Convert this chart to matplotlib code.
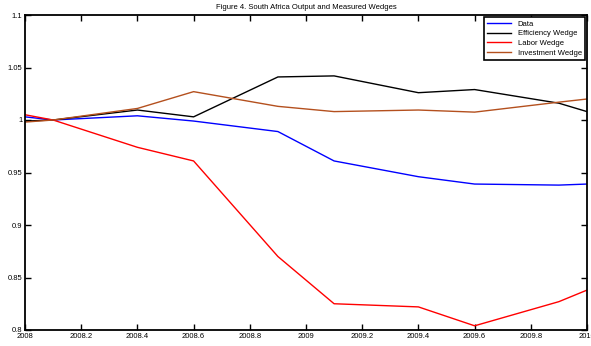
import matplotlib
matplotlib.use("Agg")
import matplotlib.pyplot as plt
from matplotlib.ticker import FormatStrFormatter, FuncFormatter

# Zeitpunkte (Quartale)
jahre = [2008.0, 2008.1, 2008.4, 2008.6, 2008.9, 2009.1, 2009.4, 2009.6, 2009.9, 2010.0]

data = [1.003, 1.000, 1.004, 0.999, 0.989, 0.961, 0.946, 0.939, 0.938, 0.939]
efficiency = [0.999, 1.000, 1.0095, 1.003, 1.041, 1.042, 1.026, 1.029, 1.016, 1.008]
labor = [1.005, 1.000, 0.974, 0.961, 0.870, 0.825, 0.822, 0.804, 0.827, 0.838]
investment = [0.998, 1.000, 1.011, 1.027, 1.013, 1.008, 1.0095, 1.0075, 1.017, 1.020]

xticks = [2008, 2008.2, 2008.4, 2008.6, 2008.8, 2009, 2009.2, 2009.4, 2009.6, 2009.8, 2010]
yticks = [0.8, 0.85, 0.9, 0.95, 1.0, 1.05, 1.1]

plt.rcParams['font.family'] = ['Liberation Sans', 'DejaVu Sans']

fig = plt.figure(figsize=(5.91, 3.46), dpi=100)
ax = fig.add_axes([25 / 591, 16 / 346, 562 / 591, 315 / 346])

ax.plot(jahre, data, color="#0000ff", lw=1.0, label="Data")
ax.plot(jahre, efficiency, color="black", lw=1.0, label="Efficiency Wedge")
ax.plot(jahre, labor, color="#ff0000", lw=1.0, label="Labor Wedge")
ax.plot(jahre, investment, color="#b4501e", lw=1.0, label="Investment Wedge")

ax.set_xlim(2008, 2010)
ax.set_ylim(0.8, 1.1)
ax.set_xticks(xticks)
ax.set_yticks(yticks)
ax.xaxis.set_major_formatter(FuncFormatter(lambda v, p: "%g" % round(v, 1)))
ax.yaxis.set_major_formatter(FuncFormatter(lambda v, p: "%g" % round(v, 2)))
ax.tick_params(direction="in", length=4, width=1, labelsize=5.5, top=True, right=True, pad=2)
for s in ax.spines.values():
    s.set_linewidth(1.3)

ax.set_title("Figure 4. South Africa Output and Measured Wedges", fontsize=5.5, pad=4)

leg = ax.legend(loc="upper right", fontsize=5.5, fancybox=False, framealpha=1,
                edgecolor="black", borderpad=0.4, handlelength=3.2, labelspacing=0.3,
                borderaxespad=0.3)
leg.get_frame().set_linewidth(1.2)

fig.savefig("out.png", dpi=100)
